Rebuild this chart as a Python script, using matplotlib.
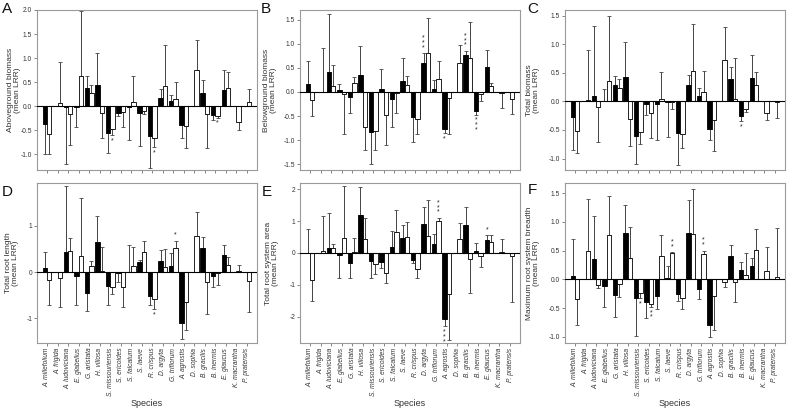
import numpy as np
import matplotlib
matplotlib.use("Agg")
import matplotlib.pyplot as plt

plt.rcParams['font.family'] = ['Liberation Sans', 'DejaVu Sans']
plt.rcParams['axes.unicode_minus'] = False

nan = np.nan
species = ["A. millefolium", "A. frigida", "A. ludoviciana", "E. glabellus", "G. aristata",
           "H. villosa", "S. missouriensis", "S. ericoides", "S. falcatum", "S. laeve",
           "R. crispus", "D. argyta", "G. triflorum", "A. agrostis", "D. sophia",
           "B. gracilis", "B. inermis", "E. glaucus", "K. macrantha", "P. pratensis"]

# A - aboveground biomass
above_black = [-0.37, nan, -0.01, -0.01, 0.38, 0.43, -0.56, -0.14, -0.01, -0.14,
               -0.62, 0.17, 0.11, -0.40, nan, 0.28, -0.18, 0.34, nan, nan]
above_black_se = [0.62, nan, 1.19, 0.42, 0.24, 0.67, 0.41, 0.06, 0.69, 0.70,
                  0.66, 0.19, 0.13, 0.27, nan, 0.26, 0.10, 0.42, nan, nan]
above_white = [-0.58, 0.06, -0.17, 0.62, 0.27, -0.14, -0.48, -0.12, 0.08, -0.10,
               -0.66, 0.42, 0.14, -0.41, 0.75, -0.17, -0.21, 0.38, -0.34, 0.08]
above_white_se = [0.41, 0.86, 0.64, 1.35, 0.17, 0.53, 0.12, 0.32, 0.54, 0.07,
                  0.19, 0.85, 0.36, 0.47, 0.63, 0.70, 0.03, 0.33, 0.16, 0.27]
above_sig_black = {}
above_sig_white = {"S. missouriensis": "*", "R. crispus": "*", "B. inermis": "*"}

# B - belowground biomass
below_black = [0.16, nan, 0.41, 0.05, -0.11, 0.35, -0.84, 0.07, -0.14, 0.22,
               -0.51, 0.60, 0.07, -0.76, nan, 0.77, -0.40, 0.52, nan, nan]
below_black_se = [0.49, nan, 1.21, 0.11, 0.33, 0.61, 0.66, 0.41, 0.59, 0.49,
                  0.52, 0.20, 0.18, 0.09, nan, 0.08, 0.07, 0.35, nan, nan]
below_white = [-0.17, 0.005, 0.12, -0.05, 0.19, -0.73, -0.81, -0.47, -0.03, 0.14,
               -0.56, 0.80, 0.26, -0.12, 0.60, 0.71, -0.04, 0.12, -0.02, -0.15]
below_white_se = [0.33, 0.90, 0.43, 0.83, 0.13, 0.47, 0.39, 0.63, 0.41, 0.20,
                  0.31, 0.73, 0.39, 0.76, 0.38, 0.75, 0.15, 0.06, 0.32, 0.30]
below_sig_black = {"D. argyta": "***", "A. agrostis": "*", "B. gracilis": "***", "B. inermis": "***"}
below_sig_white = {}

# C - total biomass
total_black = [-0.27, nan, 0.10, 0.01, 0.28, 0.42, -0.60, -0.05, -0.04, -0.01,
               -0.55, 0.28, 0.10, -0.48, nan, 0.40, -0.26, 0.41, nan, nan]
total_black_se = [0.58, nan, 1.22, 0.21, 0.16, 0.62, 0.50, 0.19, 0.63, 0.62,
                  0.57, 0.18, 0.14, 0.19, nan, 0.20, 0.09, 0.40, nan, nan]
total_white = [-0.51, 0.03, -0.10, 0.35, 0.24, -0.30, -0.53, -0.21, 0.05, -0.01,
               -0.57, 0.53, 0.17, -0.33, 0.73, 0.05, -0.14, 0.29, -0.21, -0.01]
total_white_se = [0.39, 0.87, 0.61, 1.14, 0.15, 0.48, 0.21, 0.43, 0.47, 0.13,
                  0.25, 0.82, 0.36, 0.53, 0.58, 0.71, 0.04, 0.22, 0.12, 0.28]
total_sig_black = {"B. inermis": "*"}
total_sig_white = {}

# D - total root length
length_black = [0.09, nan, 0.43, -0.09, -0.46, 0.64, -0.30, -0.01, 0.01, 0.22,
                -0.51, 0.23, 0.12, -1.10, nan, 0.51, -0.08, 0.36, nan, nan]
length_black_se = [0.34, nan, 1.42, 0.62, 0.37, 0.57, 0.40, 0.21, 0.57, 0.05,
                   0.19, 0.25, 0.28, 0.35, nan, 0.25, 0.25, 0.22, nan, nan]
length_white = [-0.17, -0.13, 0.45, 0.34, 0.14, 0.03, -0.32, -0.33, 0.12, 0.43,
                -0.59, 0.10, 0.52, -0.65, 0.78, -0.21, -0.02, 0.15, 0.02, -0.20]
length_white_se = [0.53, 0.63, 0.29, 1.26, 0.10, 0.51, 0.15, 0.43, 0.42, 0.23,
                   0.21, 0.40, 0.15, 0.61, 0.52, 0.70, 0.26, 0.18, 0.13, 0.67]
length_sig_black = {}
length_sig_white = {"R. crispus": "*", "G. triflorum": "*"}

# E - total root system area
area_black = [0.01, nan, 0.14, -0.08, -0.30, 1.18, -0.24, -0.27, 0.20, 0.46,
              -0.23, 0.90, 0.27, -2.07, nan, 0.87, 0.05, 0.40, nan, nan]
area_black_se = [0.73, nan, 1.12, 0.70, 0.48, 0.87, 0.56, 0.20, 0.50, 0.42,
                 0.10, 0.55, 0.33, 0.23, nan, 0.56, 0.25, 0.15, nan, nan]
area_white = [-0.84, 0.07, 0.15, 0.47, 0.03, 0.45, -0.34, -0.62, 0.66, 0.50,
              -0.50, 0.52, 1.00, -1.30, 0.44, -0.20, -0.10, 0.34, 0.03, -0.10]
area_white_se = [0.66, 1.10, 0.13, 1.63, 0.45, 0.63, 0.33, 0.31, 0.70, 0.48,
                 0.28, 1.13, 0.10, 1.42, 0.51, 1.05, 0.33, 0.23, 0.42, 1.45]
area_sig_black = {"A. agrostis": "***", "E. glaucus": "*"}
area_sig_white = {"G. triflorum": "***"}

# F - maximum root system breadth
breadth_black = [0.05, nan, 0.36, -0.12, -0.28, 0.80, -0.32, -0.40, -0.29, 0.02,
                 -0.26, 0.80, -0.16, -0.79, nan, 0.41, 0.16, 0.23, nan, nan]
breadth_black_se = [0.65, nan, 0.74, 0.37, 0.38, 0.50, 0.67, 0.27, 0.22, 0.22,
                    0.12, 0.58, 0.19, 0.21, nan, 0.19, 0.15, 0.14, nan, nan]
breadth_white = [-0.35, 0.50, -0.10, 0.78, -0.08, 0.37, -0.23, -0.43, 0.41, 0.46,
                 -0.33, 0.79, 0.45, -0.29, -0.05, -0.05, 0.07, 0.51, 0.14, 0.04]
breadth_white_se = [0.45, 0.90, 0.05, 0.67, 0.22, 0.55, 0.10, 0.05, 0.37, 0.01,
                    0.18, 0.78, 0.05, 0.59, 0.09, 0.34, 0.39, 0.37, 0.42, 0.86]
breadth_sig_black = {}
breadth_sig_white = {"S. missouriensis": "*", "S. ericoides": "**", "S. laeve": "**", "G. triflorum": "**"}

panels = [
    ("A", "Aboveground biomass\n(mean LRR)", above_black, above_black_se, above_white, above_white_se,
     above_sig_black, above_sig_white, (-1.33, 2.0), np.arange(-1.0, 2.01, 0.5), "%.1f"),
    ("B", "Belowground biomass\n(mean LRR)", below_black, below_black_se, below_white, below_white_se,
     below_sig_black, below_sig_white, (-1.62, 1.70), np.arange(-1.5, 1.51, 0.5), "%.1f"),
    ("C", "Total biomass\n(mean LRR)", total_black, total_black_se, total_white, total_white_se,
     total_sig_black, total_sig_white, (-1.2, 1.6), np.arange(-1.0, 1.51, 0.5), "%.1f"),
    ("D", "Total root length\n(mean LRR)", length_black, length_black_se, length_white, length_white_se,
     length_sig_black, length_sig_white, (-1.53, 1.92), [-1, 0, 1], "%d"),
    ("E", "Total root system area\n(mean LRR)", area_black, area_black_se, area_white, area_white_se,
     area_sig_black, area_sig_white, (-2.82, 2.19), [-2, -1, 0, 1, 2], "%d"),
    ("F", "Maximum root system breadth\n(mean LRR)", breadth_black, breadth_black_se, breadth_white, breadth_white_se,
     breadth_sig_black, breadth_sig_white, (-1.11, 1.68), np.arange(-1.0, 1.51, 0.5), "%.1f"),
]

W, H = 787, 409
boxes = [(37, 10, 257, 170), (300, 10, 520, 170), (565, 10, 785, 170),
         (37, 183, 257, 343), (300, 183, 520, 343), (565, 183, 785, 343)]
label_right = [21, 277, 540, 19, 279, 540]   # right edge of the y label, px
letter_pos = [(2, 2), (261, 2), (527, 2), (2, 185), (262, 185), (528, 183)]

fig = plt.figure(figsize=(W / 100, H / 100), dpi=100)
x = np.arange(len(species))
bw = 0.42
frame = "#9a9a9a"

def draw_sig(ax, xs, vals, se, sig):
    for name, s in sig.items():
        i = species.index(name)
        v = vals[i]
        sgn = 1 if v >= 0 else -1
        end = v + sgn * se[i]
        ax.annotate("\n".join(s), (xs[i], end), xytext=(0, 1.5 * sgn), textcoords="offset points",
                    ha="center", va="bottom" if sgn > 0 else "top", fontsize=5, linespacing=0.55,
                    color="#222")

for k, (letter, ylab, bv, bse, wv, wse, sb, sw, ylim, yt, fmt) in enumerate(panels):
    x0, y0, x1, y1 = boxes[k]
    ax = fig.add_axes([x0 / W, 1 - y1 / H, (x1 - x0) / W, (y1 - y0) / H])
    bv, bse, wv, wse = map(np.array, (bv, bse, wv, wse))
    xb = x - bw / 2
    xw = x + bw / 2
    ax.bar(xb, bv, bw, color="black", edgecolor="black", linewidth=0.6, zorder=2)
    ax.bar(xw, wv, bw, color="white", edgecolor="black", linewidth=0.6, zorder=2)
    for xs, v, e in ((xb, bv, bse), (xw, wv, wse)):
        lo = np.where(v < 0, e, 0)
        hi = np.where(v >= 0, e, 0)
        ax.errorbar(xs, v, yerr=[lo, hi], fmt="none", ecolor="#444", elinewidth=0.7,
                    capsize=1.3, capthick=0.6, zorder=1)
    draw_sig(ax, xb, bv, bse, sb)
    draw_sig(ax, xw, wv, wse, sw)
    ax.axhline(0, color="black", linewidth=0.8, zorder=3)
    ax.set_xlim(-0.95, 19.95)
    ax.set_ylim(*ylim)
    ax.set_yticks(yt)
    ax.set_yticklabels([fmt % t for t in yt])
    ax.set_xticks(x)
    if k >= 3:
        ax.set_xticklabels(species, rotation=90, fontsize=3.7, style="italic", color="#333")
        fig.text((x0 + x1) / 2 / W, 1 - 403 / H, "Species", fontsize=6.5, color="#333",
                 ha="center", va="center")
    else:
        ax.set_xticklabels([])
    ax.tick_params(axis="both", length=2, width=0.5, color="#555", labelsize=4.8, labelcolor="#333", pad=1.5)
    ax.set_ylabel(ylab, fontsize=6, color="#333", linespacing=1.05)
    ax.yaxis.set_label_coords((label_right[k] - x0) / (x1 - x0), 0.5)
    for sp in ax.spines.values():
        sp.set_color(frame)
        sp.set_linewidth(0.8)
    lx, ly = letter_pos[k]
    fig.text(lx / W, 1 - ly / H, letter, fontsize=11, va="top", ha="left", color="#111")

fig.savefig("out.png", dpi=100)
